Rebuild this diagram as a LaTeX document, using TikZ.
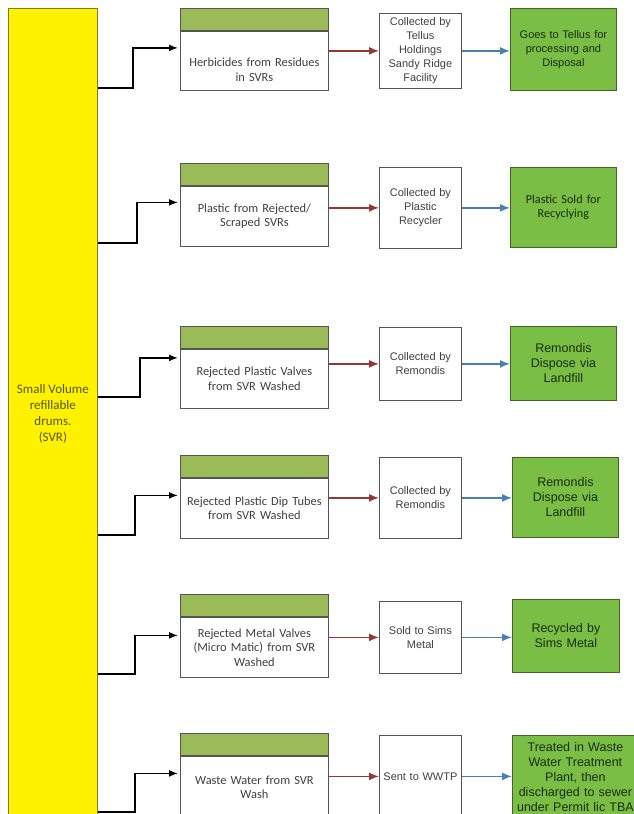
\documentclass[tikz,border=0pt]{standalone}
\usepackage{fontspec}
\setmainfont{Carlito}
\newfontfamily\arialfont{Liberation Sans}
\usepackage{xcolor}
\usetikzlibrary{arrows.meta, positioning}
\definecolor{svrline}{RGB}{125,125,40}
\definecolor{svrtext}{RGB}{85,85,0}
\definecolor{hdrgreen}{RGB}{155,187,89}
\definecolor{boxline}{RGB}{85,85,85}
\definecolor{txtgray}{RGB}{64,64,64}
\definecolor{endgreen}{RGB}{122,190,70}
\definecolor{endline}{RGB}{70,100,40}
\definecolor{endtext}{RGB}{25,45,12}
\definecolor{redarrow}{RGB}{150,55,52}
\definecolor{bluearrow}{RGB}{74,126,187}

\begin{document}
\begin{tikzpicture}[x=1pt, y=-1pt,
  svrbox/.style={draw=svrline, line width=0.8pt, fill=yellow, minimum width=89pt, inner sep=0pt,
    text=svrtext, align=center, font=\fontsize{13}{16}\selectfont},
  hdr/.style={draw=boxline, line width=0.8pt, fill=hdrgreen, minimum width=148pt, minimum height=22pt, inner sep=0pt},
  midbox/.style={draw=boxline, line width=0.8pt, fill=white, text width=140pt, inner sep=4pt,
    align=center, text=txtgray, font=\fontsize{12.4}{14.5}\selectfont, anchor=north west},
  collbox/.style={draw=boxline, line width=0.8pt, fill=white, text width=76pt, inner sep=3pt,
    align=center, text=txtgray, font=\arialfont\fontsize{11}{14}\selectfont, anchor=north west},
  endbox/.style={draw=endline, line width=0.8pt, fill=endgreen, text width=100pt, inner sep=3pt,
    align=center, text=endtext, font=\arialfont\fontsize{12.5}{15}\selectfont, anchor=north west},
  feed/.style={-{Latex[length=9pt,width=7pt]}, line width=1.5pt, black, shorten >=2pt},
  toColl/.style={-{Latex[length=10pt,width=8pt]}, line width=1.5pt, redarrow},
  toEnd/.style={-{Latex[length=10pt,width=8pt]}, line width=1.5pt, bluearrow}]

\useasboundingbox (0,0) rectangle (634,814);

% Source drums
\node[svrbox, minimum height=810pt, anchor=north west] (svr) at (8,8) {Small Volume\\refillable\\drums.\\(SVR)};

% Row 1 - herbicides
\node[midbox, minimum height=59pt, text height=26pt] (b1) at (180,31) {Herbicides from Residues\\in SVRs};
\node[hdr, above=0pt of b1] (h1) {};
\node[collbox, minimum height=75pt] (c1) at (379,13) {Collected by\\Tellus\\Holdings\\Sandy Ridge\\Facility};
\node[endbox, minimum height=82pt, font=\arialfont\fontsize{11}{14}\selectfont] (g1) at (510,8) {Goes to Tellus for\\processing and\\Disposal};
\coordinate (k1) at (133,88);
\draw[feed] (svr.east |- k1) -- (k1) |- ([yshift=13pt]b1.west);
\draw[toColl] (b1.east |- c1) -- (c1.west);
\draw[toEnd] (c1.east) -- (c1.east -| g1.west);

% Row 2 - plastic
\node[midbox, minimum height=60pt] (b2) at (180,186) {Plastic from Rejected/\\Scraped SVRs};
\node[hdr, above=0pt of b2] (h2) {};
\node[collbox, minimum height=81pt] (c2) at (379,167) {Collected by\\Plastic\\Recycler};
\node[endbox, minimum height=80pt, font=\fontsize{12.2}{13.5}\selectfont] (g2) at (510,167) {Plastic Sold for\\Recyclying};
\coordinate (k2) at (137,243);
\draw[feed] (svr.east |- k2) -- (k2) |- ([yshift=14pt]b2.west);
\draw[toColl] (b2.east |- c2) -- (c2.west);
\draw[toEnd] (c2.east) -- (c2.east -| g2.west);

% Row 3 - plastic valves
\node[midbox, minimum height=59pt] (b3) at (180,349) {Rejected Plastic Valves\\from SVR Washed};
\node[hdr, above=0pt of b3] (h3) {};
\node[collbox, minimum height=73pt] (c3) at (379,327) {Collected by\\Remondis};
\node[endbox, minimum height=74pt] (g3) at (510,326) {Remondis\\Dispose via\\Landfill};
\coordinate (k3) at (140,397);
\draw[feed] (svr.east |- k3) -- (k3) |- ([yshift=21pt]b3.west);
\draw[toColl] (b3.east |- c3) -- (c3.west);
\draw[toEnd] (c3.east) -- (c3.east -| g3.west);

% Row 4 - dip tubes
\node[midbox, minimum height=60pt] (b4) at (180,478) {Rejected Plastic Dip Tubes\\from SVR Washed};
\node[hdr, above=0pt of b4] (h4) {};
\node[collbox, minimum height=81pt] (c4) at (379,457) {Collected by\\Remondis};
\node[endbox, minimum height=80pt] (g4) at (512,457) {Remondis\\Dispose via\\Landfill};
\coordinate (k4) at (135,535);
\draw[feed] (svr.east |- k4) -- (k4) |- ([yshift=13pt]b4.west);
\draw[toColl] (b4.east |- c4) -- (c4.west);
\draw[toEnd] (c4.east) -- (c4.east -| g4.west);

% Row 5 - metal valves
\node[midbox, minimum height=60pt] (b5) at (180,617) {Rejected Metal Valves\\(Micro Matic) from SVR\\Washed};
\node[hdr, above=0pt of b5] (h5) {};
\node[collbox, minimum height=72pt] (c5) at (379,601) {Sold to Sims\\Metal};
\node[endbox, minimum height=73pt, text width=101pt] (g5) at (512,599) {Recycled by\\Sims Metal};
\coordinate (k5) at (135,674);
\draw[feed] (svr.east |- k5) -- (k5) |- ([yshift=12pt]b5.west);
\draw[toColl] (b5.east |- c5) -- (c5.west);
\draw[toEnd] (c5.east) -- (c5.east -| g5.west);

% Row 6 - waste water
\node[midbox, minimum height=62pt] (b6) at (180,756) {Waste Water from SVR\\Wash};
\node[hdr, above=0pt of b6] (h6) {};
\node[collbox, minimum height=82pt] (c6) at (379,735) {Sent to WWTP};
\node[endbox, minimum height=83pt, text width=122pt, inner sep=2pt] (g6) at (512,735) {Treated in Waste\\Water Treatment\\Plant, then\\discharged to sewer\\under Permit lic TBA};
\coordinate (k6) at (135,812);
\draw[feed] (svr.east |- k6) -- (k6) |- ([yshift=14pt]b6.west);
\draw[toColl] (b6.east |- c6) -- (c6.west);
\draw[toEnd] (c6.east) -- (c6.east -| g6.west);
\end{tikzpicture}
\end{document}
